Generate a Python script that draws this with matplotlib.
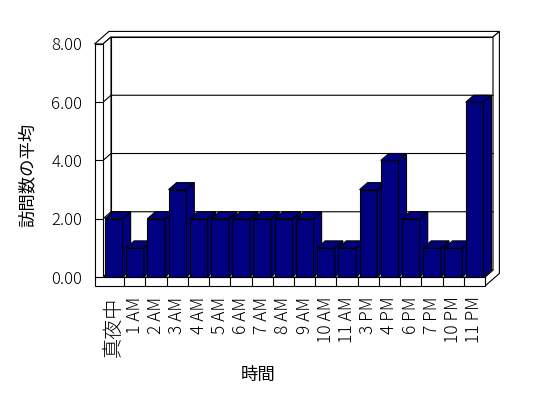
import matplotlib
matplotlib.use('Agg')
import matplotlib.pyplot as plt
from matplotlib.patches import Polygon

plt.rcParams['font.family'] = ['Noto Sans CJK JP', 'DejaVu Sans']
plt.rcParams['font.weight'] = 'light'

# data
hours = ['真夜中', '1 AM', '2 AM', '3 AM', '4 AM', '5 AM', '6 AM', '7 AM', '8 AM',
         '9 AM', '10 AM', '11 AM', '3 PM', '4 PM', '6 PM', '7 PM', '10 PM', '11 PM']
visits = [2, 1, 2, 3, 2, 2, 2, 2, 2, 2, 1, 1, 3, 4, 2, 1, 1, 6]
y_ticks = [0, 2, 4, 6, 8]

n = len(hours)
ymax = y_ticks[-1]

# fake 3d look (old excel style)
DX, DY = 0.377, 0.24   # depth shift in data units
T = 0.8                # back wall thickness (fraction of depth)
WL = 0.4               # left wall thickness
FL = 0.31              # floor thickness
NAVY = '#000080'
LW = 0.8

fig = plt.figure(figsize=(5.48, 3.98), dpi=100)
ax = fig.add_axes([103/548, 1 - 277/398, 382/548, 233/398])
ax.set_xlim(-0.5, n - 0.5)
ax.set_ylim(0, ymax)
for s in ax.spines.values():
    s.set_visible(False)
ax.patch.set_visible(False)


def pt(x, y, d):
    return (x + d*DX, y + d*DY)


def face(pts, fc='white', z=1):
    ax.add_patch(Polygon(pts, closed=True, fc=fc, ec='black', lw=LW,
                         clip_on=False, zorder=z, joinstyle='miter'))


x0, x1 = -0.5, n - 0.5

# walls and floor
face([pt(x0, 0, 1), pt(x1, 0, 1), pt(x1, ymax, 1), pt(x0, ymax, 1)], z=0.5)
face([pt(x0 - WL, ymax, 0), pt(x0, ymax, 0), pt(x0, ymax, 1), pt(x1, ymax, 1),
      pt(x1, ymax, 1 + T), pt(x0 - WL, ymax, 1 + T)], z=0.5)
face([pt(x1, -FL, 0), pt(x1, 0, 0), pt(x1, 0, 1), pt(x1, ymax, 1),
      pt(x1, ymax, 1 + T), pt(x1, -FL, 1 + T)], z=0.5)
face([pt(x0, 0, 0), pt(x0, 0, 1), pt(x0, ymax, 1), pt(x0, ymax, 0)], z=0.5)
face([pt(x0, 0, 0), pt(x1, 0, 0), pt(x1, 0, 1), pt(x0, 0, 1)], z=0.5)
face([pt(x0 - WL, -FL, 0), pt(x1, -FL, 0), pt(x1, 0, 0), pt(x0, 0, 0),
      pt(x0, ymax, 0), pt(x0 - WL, ymax, 0)], z=0.7)

# gridlines on back + left wall
for v in y_ticks[1:-1]:
    a, b, c = pt(x0, v, 0), pt(x0, v, 1), pt(x1, v, 1)
    ax.plot([a[0], b[0], c[0]], [a[1], b[1], c[1]], color='black', lw=LW,
            clip_on=False, zorder=0.6)

# bars
for i, v in enumerate(visits):
    xa = i - 0.5 + 0.09
    xb = xa + 0.835
    face([(xa, 0), (xb, 0), (xb, v), (xa, v)], fc=NAVY, z=3)
    face([pt(xb, 0, 0), pt(xb, 0, 1), pt(xb, v, 1), pt(xb, v, 0)], fc=NAVY, z=3)
    face([pt(xa, v, 0), pt(xb, v, 0), pt(xb, v, 1), pt(xa, v, 1)], fc=NAVY, z=3)

ax.set_xticks(range(n))
ax.set_xticklabels(hours, rotation=90, fontsize=12.5)
ax.get_xticklabels()[0].set_fontsize(14.5)  # kanji run wider in the original font
ax.set_xticks([k - 0.5 for k in range(1, n)], minor=True)
ax.tick_params(axis='x', which='major', length=0, pad=14)
ax.tick_params(axis='x', which='minor', length=6.5, width=LW, direction='out')

ax.set_yticks(y_ticks)
ax.set_yticklabels(['%.2f' % t for t in y_ticks], fontsize=12)
ax.tick_params(axis='y', length=6.1, width=LW, direction='out', pad=9)

ax.set_ylabel('訪問数の平均', fontsize=12.5, va='center')
ax.yaxis.set_label_coords(-0.196, 0.438)
ax.set_xlabel('時間', fontsize=12.5, va='center')
ax.xaxis.set_label_coords(0.406, -0.42)

fig.savefig('out.png', dpi=100, facecolor='white')
